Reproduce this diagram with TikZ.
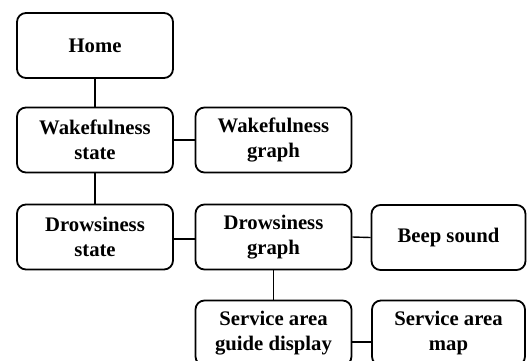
\documentclass[tikz,border=0pt]{standalone}
\usepackage{fontspec}
\setmainfont{Liberation Serif}
\begin{document}
\begin{tikzpicture}[x=1pt,y=-1pt,
  box/.style={draw, line width=1.8pt, rounded corners=9pt,
    minimum width=156pt, minimum height=65pt, inner sep=0pt,
    align=center, font=\bfseries\fontsize{20.7}{25}\selectfont},
  link/.style={line width=1.4pt}]
\useasboundingbox (0,0) rectangle (527,360);
\clip (0,0) rectangle (527,360);

% screens
\node[box] (home)   at (95,45.5)   {Home};
\node[box] (wstate) at (95,140)    {Wakefulness\\state};
\node[box] (wgraph) at (273.5,140) {Wakefulness\\graph};
\node[box] (dstate) at (95,237)    {Drowsiness\\state};
\node[box] (dgraph) at (273.5,237) {Drowsiness\\graph};
\node[box, minimum width=154pt] (beep)  at (448.5,237.5) {Beep sound};
\node[box] (guide)  at (273.5,333) {Service area\\guide display};
\node[box, minimum width=153pt] (map)   at (448.5,333)   {Service area\\map};

% connections
\draw[link] (home.south) -- (wstate.north);
\draw[link] (wstate.east) -- (wgraph.west);
\draw[link] (wstate.south) -- (dstate.north);
\draw[link] ([yshift=-2pt]dstate.east) -- ([yshift=-2pt]dgraph.west);
\draw[link] (dgraph.east) -- (beep.west);
\draw[link] (dgraph.south) -- (guide.north);
\draw[link] ([yshift=-9pt]guide.east) -- ([yshift=-9pt]map.west);
\end{tikzpicture}
\end{document}
